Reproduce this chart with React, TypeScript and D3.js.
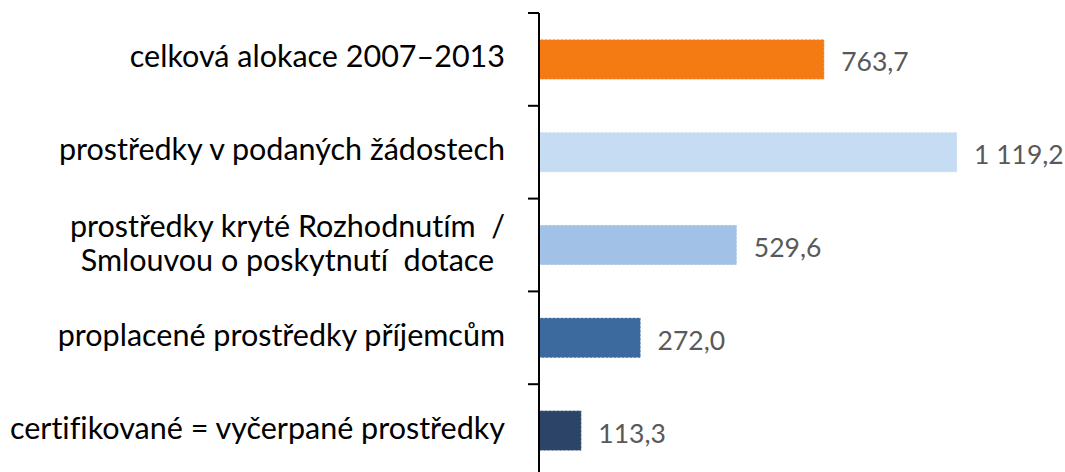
import React, { useEffect, useRef } from "react";
import * as d3 from "d3";

const categories = [
  "celková alokace 2007–2013",
  "prostředky v podaných žádostech",
  "prostředky kryté Rozhodnutím  /\nSmlouvou o poskytnutí  dotace",
  "proplacené prostředky příjemcům",
  "certifikované = vyčerpané prostředky",
];
const values = [763.7, 1119.2, 529.6, 272.0, 113.3];
const colors = ["#F47A14", "#C6DCF3", "#A2C1E6", "#3D6A9E", "#2B4467"];

const width = 1065,
  height = 472;
const axisX = 539;
const margin = { top: 13, bottom: -5 };
const font = "Lato, 'Open Sans', sans-serif";

const czech = d3.formatLocale({
  decimal: ",",
  thousands: "\u00a0",
  grouping: [3],
  currency: ["", " Kč"],
});
const fmt = czech.format(",.1f");

export default function App(): JSX.Element {
  const ref = useRef<SVGSVGElement>(null);

  useEffect(() => {
    if (!ref.current) return;
    const svg = d3.select(ref.current);
    svg.selectAll("*").remove();

    const x = d3
      .scaleLinear()
      .domain([0, d3.max(values) as number])
      .range([axisX, axisX + 418]);

    const y = d3
      .scaleBand()
      .domain(categories)
      .range([margin.top, height - margin.bottom])
      .paddingInner(0.57)
      .paddingOuter(0.285);

    const yCell = d3
      .scaleBand()
      .domain(categories)
      .range([margin.top, height - margin.bottom]);

    const rows = categories.map((c, i) => ({ c, v: values[i], color: colors[i] }));

    // bars
    svg
      .selectAll(".bar")
      .data(rows)
      .enter()
      .append("rect")
      .attr("class", "bar")
      .attr("x", axisX)
      .attr("y", (d) => y(d.c) as number)
      .attr("width", (d) => x(d.v) - axisX)
      .attr("height", y.bandwidth())
      .attr("fill", (d) => d.color)
      .attr("stroke", "#ffffff")
      .attr("stroke-opacity", 0.55)
      .attr("stroke-width", 1)
      .attr("stroke-dasharray", "2 2");

    // value labels
    svg
      .selectAll(".val")
      .data(rows)
      .enter()
      .append("text")
      .attr("class", "val")
      .attr("x", (d) => x(d.v) + 17)
      .attr("y", (d) => (y(d.c) as number) + y.bandwidth() / 2 + 12)
      .attr("font-family", font)
      .attr("font-size", 26.5)
      .attr("fill", "#595959")
      .text((d) => fmt(d.v));

    // axis line + ticks between categories
    const g = svg.append("g");
    g.append("line")
      .attr("x1", axisX)
      .attr("x2", axisX)
      .attr("y1", margin.top)
      .attr("y2", height)
      .attr("stroke", "#000")
      .attr("stroke-width", 2);
    const tickYs = categories.map((c) => yCell(c) as number).concat([yCell.range()[1]]);
    g.selectAll(".tick")
      .data(tickYs)
      .enter()
      .append("line")
      .attr("x1", axisX - 11)
      .attr("x2", axisX)
      .attr("y1", (d) => d)
      .attr("y2", (d) => d)
      .attr("stroke", "#000")
      .attr("stroke-width", 2);

    // category labels
    const right = 505;
    const lineH = 34;
    rows.forEach((d) => {
      const lines = d.c.split("\n");
      const cy = (y(d.c) as number) + y.bandwidth() / 2;
      const t = svg
        .append("text")
        .attr("font-family", font)
        .attr("font-size", 30.5)
        .style("font-variant-ligatures", "none")
        .attr("fill", "#000");
      lines.forEach((ln, i) => {
        t.append("tspan")
          .attr("y", cy + 8 + (i - (lines.length - 1) / 2) * lineH + (lines.length > 1 ? 1 : 0))
          .style("white-space", "pre")
          .text(ln);
      });
      const spans = t.selectAll<SVGTSpanElement, unknown>("tspan").nodes();
      const maxW = d3.max(spans, (s) => s.getComputedTextLength()) || 0;
      if (lines.length > 1) {
        t.attr("text-anchor", "middle");
        t.selectAll("tspan").attr("x", right - maxW / 2);
      } else {
        t.attr("text-anchor", "end");
        t.selectAll("tspan").attr("x", right);
      }
    });
  }, []);

  return (
    <div style={{ position: "fixed", left: 0, top: 0 }}>
      <svg ref={ref} width={width} height={height} style={{ display: "block", background: "#fff" }} />
    </div>
  );
}
